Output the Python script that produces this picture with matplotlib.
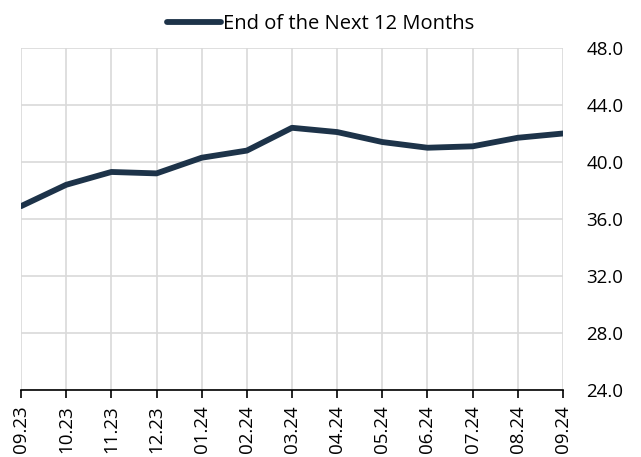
import matplotlib
matplotlib.use("Agg")
import matplotlib.pyplot as plt

months = ["09.23", "10.23", "11.23", "12.23", "01.24", "02.24", "03.24",
          "04.24", "05.24", "06.24", "07.24", "08.24", "09.24"]
values = [36.9, 38.4, 39.3, 39.2, 40.3, 40.8, 42.4, 42.1, 41.4, 41.0, 41.1, 41.7, 42.0]
y_ticks = [24.0, 28.0, 32.0, 36.0, 40.0, 44.0, 48.0]
series_name = "End of the Next 12 Months"

plt.rcParams['font.family'] = ['Open Sans', 'DejaVu Sans']

fig = plt.figure(figsize=(6.41, 4.57), dpi=100)
ax = fig.add_axes([0.0328, 0.1466, 0.8455, 0.7484])

x = list(range(len(months)))
ax.plot(x, values, color="#1d3349", linewidth=4.2, solid_capstyle="round",
        label=series_name, zorder=3)

ax.set_xlim(0, len(months) - 1)
ax.set_ylim(24, 48)
ax.set_xticks(x)
ax.set_xticklabels(months, rotation=90, fontsize=13.5)
ax.set_yticks(y_ticks)
ax.set_yticklabels([f"{v:.1f}" for v in y_ticks], fontsize=13.5)
ax.yaxis.tick_right()
ax.tick_params(axis="y", length=0, pad=17)
ax.tick_params(axis="x", direction="out", length=6, width=1.2, color="black", pad=5)

ax.grid(True, color="#d9d9d9", linewidth=1.2, zorder=0)
for s in ["top", "left", "right"]:
    ax.spines[s].set_visible(False)
ax.spines["bottom"].set_color("black")
ax.spines["bottom"].set_linewidth(1.2)
ax.spines["bottom"].set_zorder(4)

leg = fig.legend(loc="upper center", bbox_to_anchor=(0.5, 1.008), frameon=False,
                 fontsize=14.5, handlelength=2.7, handletextpad=0.1)

fig.savefig("out.png", dpi=100)
